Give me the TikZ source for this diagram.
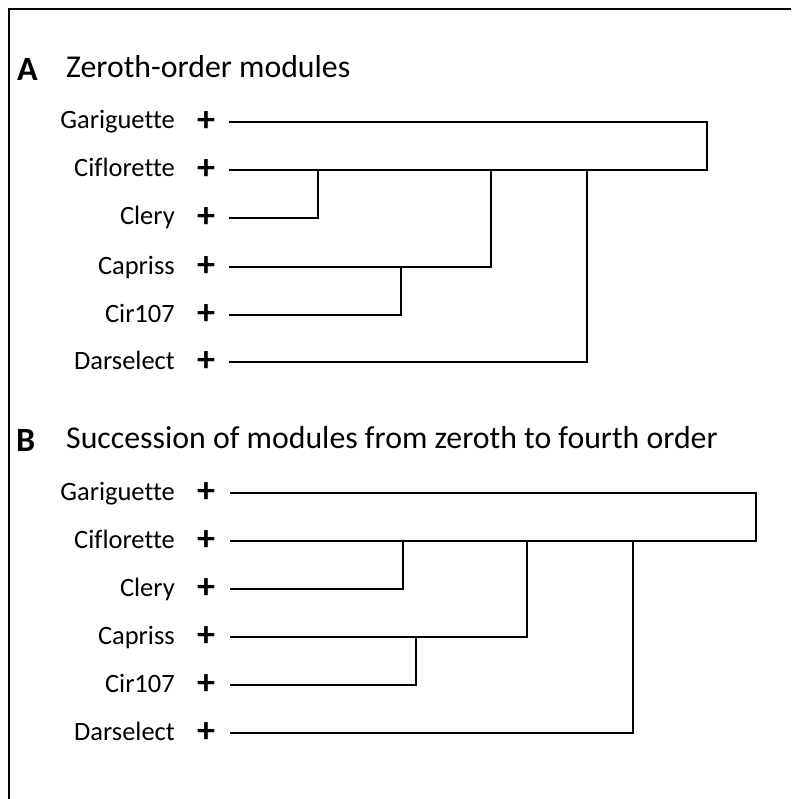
\documentclass[tikz,border=0pt]{standalone}
\usepackage{fontspec}
\setmainfont{Carlito}[Ligatures=NoCommon]
\begin{document}
\begin{tikzpicture}[x=1pt,y=-1pt,
  lbl/.style={anchor=base east,inner sep=0pt,font=\fontsize{26.5}{30}\selectfont},
  plus/.style={inner sep=0pt,font=\fontsize{36}{36}\selectfont\bfseries},
  panel/.style={anchor=base west,inner sep=0pt,font=\fontsize{34}{36}\selectfont\bfseries},
  ttl/.style={anchor=base west,inner sep=0pt,font=\fontsize{31.8}{34}\selectfont},
  tree/.style={line width=2.9pt,line join=miter,line cap=rect}]
\useasboundingbox (0,0) rectangle (791,799);
\draw[line width=2pt] (9,799) -- (9,9.5) -- (791,9.5);
% Panel A
\node[panel] (pa) at (17,81) {A};
\node[ttl] (ta) at (66,78) {Zeroth-order modules};
\foreach \n/\t/\y in {g/Gariguette/122,c/Ciflorette/170,l/Clery/218,p/Capriss/267,r/Cir107/315,d/Darselect/362}{
  \node[lbl] (a\n) at (175,\y+7) {\t};
  \node[plus] (ap\n) at (206,\y) {+};
  \coordinate (as\n) at (230,\y);
}
\coordinate (ajg) at (707,122);
\coordinate (ajc) at (707,170);
\coordinate (ajl) at (318,218);
\coordinate (ajp) at (491,267);
\coordinate (ajr) at (401,315);
\coordinate (ajd) at (587,362);
\draw[tree] (asg) -- (ajg) -- (ajc);
\draw[tree] (asc) -- (ajc);
\draw[tree] (asl) -- (ajl) -- (ajl |- asc);
\draw[tree] (asp) -- (ajp) -- (ajp |- asc);
\draw[tree] (asr) -- (ajr) -- (ajr |- asp);
\draw[tree] (asd) -- (ajd) -- (ajd |- asc);
% Panel B
\node[panel] (pb) at (16,451) {B};
\node[ttl] (tb) at (66,448) {Succession of modules from zeroth to fourth order};
\foreach \n/\t/\y in {g/Gariguette/493,c/Ciflorette/541,l/Clery/589,p/Capriss/637,r/Cir107/685,d/Darselect/733}{
  \node[lbl] (b\n) at (175,\y+7) {\t};
  \node[plus] (bp\n) at (206,\y) {+};
  \coordinate (bs\n) at (231,\y);
}
\coordinate (bjg) at (756,493);
\coordinate (bjc) at (756,541);
\coordinate (bjl) at (403,589);
\coordinate (bjp) at (527,637);
\coordinate (bjr) at (416,685);
\coordinate (bjd) at (633,733);
\draw[tree] (bsg) -- (bjg) -- (bjc);
\draw[tree] (bsc) -- (bjc);
\draw[tree] (bsl) -- (bjl) -- (bjl |- bsc);
\draw[tree] (bsp) -- (bjp) -- (bjp |- bsc);
\draw[tree] (bsr) -- (bjr) -- (bjr |- bsp);
\draw[tree] (bsd) -- (bjd) -- (bjd |- bsc);
\end{tikzpicture}
\end{document}
